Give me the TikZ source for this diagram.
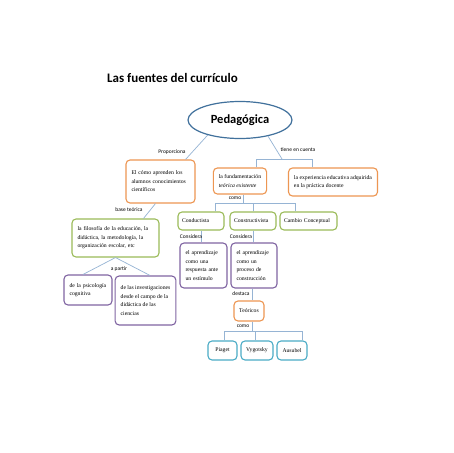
\documentclass[tikz,border=0pt]{standalone}
\usepackage{fontspec}
\setmainfont{Liberation Serif}
\newfontfamily\calibrifont{Carlito}
\usetikzlibrary{shapes.geometric}

\definecolor{pedblue}{RGB}{65,113,156}
\definecolor{boxorange}{RGB}{237,150,82}
\definecolor{boxgreen}{RGB}{155,187,89}
\definecolor{boxpurple}{RGB}{128,100,162}
\definecolor{boxteal}{RGB}{75,172,198}
\definecolor{linkblue}{RGB}{150,180,212}

\begin{document}
\begin{tikzpicture}[x=1pt,y=-1pt,
	base box/.style={draw,rounded corners=4pt,line width=1.1pt,fill=white,inner xsep=5.5pt,inner ysep=2pt,font=\fontsize{5.7}{8.5}\selectfont,align=left},
	orange box/.style={base box,draw=boxorange},
	green box/.style={base box,draw=boxgreen},
	purple box/.style={base box,draw=boxpurple},
	teal box/.style={base box,draw=boxteal,align=center,inner xsep=2pt},
	link/.style={draw=linkblue,line width=0.7pt},
	tag/.style={font=\calibrifont\fontsize{5.5}{6}\selectfont,inner sep=0.5pt}
]

	\useasboundingbox[fill=white] (0,0) rectangle (453,453);

	\node[font=\calibrifont\bfseries\fontsize{13}{15}\selectfont,anchor=base west,inner sep=0pt] (titulo) at (107,82) {Las fuentes del currículo};
	\node[ellipse,draw=pedblue,line width=1.2pt,minimum width=104pt,minimum height=37pt,font=\calibrifont\bfseries\fontsize{12.5}{14}\selectfont] (ped) at (240,120) {Pedagógica};

	% primer nivel
	\node[orange box,text width=58pt,minimum height=43pt] (aprenden) at (160.5,181.5) {El cómo aprenden los\\alumnos conocimientos\\científicos};
	\node[orange box,minimum width=52pt,minimum height=26pt] (fund) at (240,181) {la fundamentación\\\textit{teórica existente}};
	\node[orange box,minimum width=88pt,minimum height=28pt] (exper) at (333,182) {la experiencia educativa adquirida\\en la práctica docente};

	% rama izquierda
	\node[green box,text width=76pt,minimum height=38pt] (filo) at (115.5,238) {la filosofía de la educación, la\\didáctica, la metodología, la\\organización escolar, etc};
	\node[purple box,text width=37pt,minimum height=30pt] (psico) at (88,290) {de la psicología\\cognitiva};
	\node[purple box,minimum width=59pt,minimum height=49pt] (invest) at (145.5,300.5) {de las investigaciones\\desde el campo de la\\didáctica de las\\ciencias};

	% teorias
	\node[green box,inner xsep=4pt,text width=38pt,minimum height=18pt] (cond) at (201,221) {Conductista};
	\node[green box,inner xsep=4pt,text width=38pt,minimum height=18pt] (constr) at (253,221) {Constructivista};
	\node[green box,inner xsep=4pt,text width=49pt,minimum height=18pt] (cambio) at (308.5,221) {Cambio Conceptual};
	\node[purple box,text width=36pt,minimum height=45pt] (estimulo) at (203.5,265.5) {el aprendizaje\\como una\\respuesta ante\\un estímulo};
	\node[purple box,text width=35pt,minimum height=45pt] (proceso) at (254,265.5) {el aprendizaje\\como un\\proceso de\\construcción};
	\node[orange box,align=center,inner xsep=2pt,minimum width=30pt,minimum height=20pt] (teo) at (249,311) {Teóricos};

	\foreach \nombre/\x/\w [count=\i] in {Piaget/222.5/29,Vygotsky/257/32,Ausubel/292/30}
		\node[teal box,minimum width=\w pt,minimum height=19pt] (autor\i) at (\x,350.5) {\nombre};

	% conectores
	\coordinate (tiene) at (282,159);
	\coordinate (barizq) at (256,159);
	\coordinate (barder) at (312,159);
	\coordinate (comotallo) at (243,203);
	\coordinate (comoizq) at (215,203);
	\coordinate (comoder) at (295,203);
	\coordinate (autizq) at (224,331);
	\coordinate (autder) at (302,331);

	\draw[link] (ped.205) -- ([xshift=-10pt]aprenden.north east);
	\draw[link] (ped.330) -- (tiene);
	\draw[link] (barizq |- fund.north) -- (barizq) -- (barder) -- (barder |- exper.north);
	\draw[link] ([xshift=-5pt]aprenden.south) -- ([xshift=28pt]filo.north);
	\draw[link] (filo.south) -- ([xshift=-5pt]psico.north);
	\draw[link] (filo.south) -- ([xshift=4.5pt]invest.north);
	\draw[link] (comotallo |- fund.south) -- (comotallo);
	\draw[link] (comoizq |- cond.north) -- (comoizq) -- (comoder) -- (comoder |- cambio.north);
	\draw[link] (constr.north) -- (constr.north |- comoizq);
	\draw[link] (cond.south) -- (cond.south |- estimulo.north);
	\draw[link] (constr.south) -- (constr.south |- proceso.north);
	\draw[link] ([xshift=-2pt]proceso.south) -- ([xshift=-2pt]proceso.south |- teo.north);
	\draw[link] ([xshift=3pt]teo.south) -- ([xshift=3pt]teo.south |- autizq);
	\draw[link] (autizq |- autor1.north) -- (autizq) -- (autder) -- (autder |- autor3.north);
	\draw[link] ([xshift=-2pt]autor2.north) -- ([xshift=-2pt]autor2.north |- autizq);

	% etiquetas
	\node[tag] (lprop) at (172,152) {Proporciona};
	\node[tag] (ltiene) at (298,150) {tiene en cuenta};
	\node[tag] (lbase) at (129,210) {base teórica};
	\node[tag] (lpartir) at (119,269) {a partir};
	\node[tag] (lcomo) at (235,198) {como};
	\node[tag] (lconsid1) at (191,237) {Considera};
	\node[tag] (lconsid2) at (241,237) {Considera};
	\node[tag] (ldestaca) at (241,294) {destaca};
	\node[tag] (lcomo2) at (243,326) {como};
\end{tikzpicture}
\end{document}
